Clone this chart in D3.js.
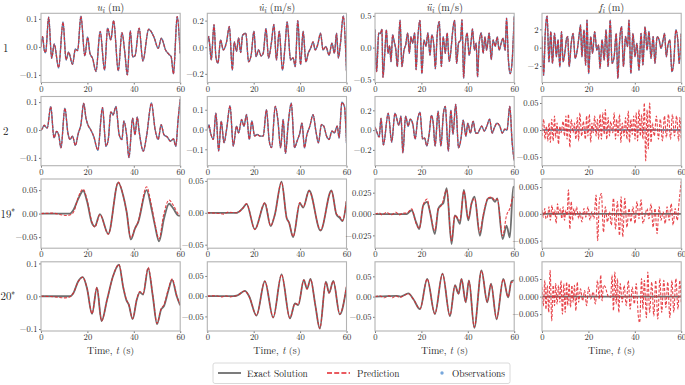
<!DOCTYPE html>
<html>
<head>
<meta charset="utf-8">
<script src="https://cdn.jsdelivr.net/npm/d3@7"></script>
<style>
  body { margin: 0; background: #fff; }
  svg { display: block; }
</style>
</head>
<body>
<svg id="chart" width="685" height="385"></svg>
<script>
// time axis
var T_DOMAIN = [0, 60];
var X_TICKS = [0, 20, 40, 60];

// column headers and row names
var COL_SYMBOLS = ["u", "u\u0307", "\u00fc", "f"];
var COL_UNITS = ["(m)", "(m/s)", "(m/s)", "(m)"];
var ROW_NAMES = ["1", "2", "19", "20"];
var ROW_STARRED = [false, false, true, true];

// y ranges, ticks and tick label decimals, row by row
var Y_DOMAINS = [
  [[-0.127, 0.12], [-0.265, 0.255], [-0.55, 0.54], [-3.8, 3.75]],
  [[-0.128, 0.12], [-0.183, 0.167], [-0.36, 0.34], [-0.066, 0.062]],
  [[-0.0736, 0.0736], [-0.0555, 0.053], [-0.040, 0.041], [-0.0064, 0.0065]],
  [[-0.106, 0.105], [-0.086, 0.085], [-0.085, 0.086], [-0.0098, 0.0099]]
];
var Y_TICKS = [
  [[-0.1, 0, 0.1], [-0.2, 0, 0.2], [-0.5, 0, 0.5], [-2, 0, 2]],
  [[-0.1, 0, 0.1], [-0.1, 0, 0.1], [-0.2, 0, 0.2], [-0.05, 0, 0.05]],
  [[-0.05, 0, 0.05], [-0.05, 0, 0.05], [-0.025, 0, 0.025], [-0.005, 0, 0.005]],
  [[-0.1, 0, 0.1], [-0.05, 0, 0.05], [-0.05, 0, 0.05], [-0.005, 0, 0.005]]
];
var Y_DECIMALS = [
  [1, 1, 1, 0],
  [1, 1, 1, 2],
  [2, 2, 3, 3],
  [1, 2, 2, 3]
];

// ---- floor 1 (observed) : [t, value]
var U1 = [[0,0.001],[0.7,0.037],[1.4,-0.011],[2.0,-0.02],[3.3,0.106],[4.6,-0.04],[5.7,0.01],[7.6,-0.074],[9.5,0.088],[10.8,-0.046],[11.9,-0.019],[13.6,-0.062],[14.8,-0.008],[15.8,-0.013],[17.2,0.11],[18.9,-0.032],[20.1,0.035],[21.1,-0.023],[22.2,-0.04],[23.7,-0.087],[25.5,0.055],[27.4,-0.082],[28.7,0.067],[30.1,0.025],[31.3,0.094],[33.3,-0.085],[34.9,0.051],[36.2,-0.026],[37.2,-0.1],[38.5,0.057],[39.5,-0.035],[40.5,-0.032],[42.3,0.067],[43.9,-0.05],[46.4,0.063],[48.7,0.035],[50.5,-0.005],[51.9,0.031],[53.7,-0.011],[55.1,-0.026],[56.1,-0.035],[57.1,-0.096],[58.7,0.108],[60,-0.023]];
var UD1 = [[0,0.03],[0.6,0.08],[1.1,0.005],[1.7,-0.095],[2.9,0.17],[3.7,-0.07],[4.6,-0.12],[5.7,0.055],[6.9,-0.02],[8.3,0.04],[9.5,0.155],[10.8,-0.17],[11.6,0.04],[12.6,-0.03],[13.5,0.07],[14.4,-0.04],[15.2,0.09],[16.6,0.105],[17.8,-0.11],[18.9,-0.06],[20.1,0.12],[21.0,-0.07],[22.1,-0.02],[23.2,-0.065],[24.1,-0.045],[25.3,0.14],[26.4,-0.08],[27.6,0.03],[28.7,0.17],[29.8,-0.095],[31.0,0.12],[32.4,-0.17],[33.6,0.03],[34.4,0.19],[35.9,-0.095],[37.0,-0.08],[37.9,-0.145],[39.0,0.2],[40.2,-0.13],[41.3,0.12],[42.5,-0.11],[43.5,-0.045],[44.5,-0.01],[45.6,0.04],[46.5,-0.02],[47.6,0.02],[48.8,0.105],[49.9,-0.02],[51.1,0.005],[52.5,-0.06],[53.7,0.03],[54.8,-0.045],[55.7,0.105],[56.5,-0.08],[57.4,0.03],[58.6,0.235],[60,-0.18]];
var UDD1 = [[0,0.28],[0.7,-0.38],[1.6,0.23],[2.3,0.22],[3.0,0.29],[3.4,-0.47],[4.3,-0.04],[4.9,0.28],[5.6,-0.09],[6.3,0.03],[6.9,-0.22],[7.6,0.2],[8.3,0.09],[9.0,-0.04],[9.6,-0.3],[10.8,0.43],[11.6,-0.3],[12.5,-0.04],[13.2,0.04],[14.1,0.23],[14.8,-0.09],[15.5,0.17],[16.2,0.07],[17.1,0.23],[17.7,-0.35],[18.4,0.12],[19.4,0.43],[20.2,-0.41],[21.1,0.12],[22.0,0.02],[22.8,0.23],[23.7,-0.12],[24.5,0.2],[25.4,0.02],[26.0,-0.33],[26.8,0.2],[27.7,0.41],[28.6,-0.3],[29.4,0.17],[30.3,-0.09],[31.1,0.23],[32.0,-0.22],[32.9,0.02],[33.4,0.23],[34.3,0.43],[35.2,-0.25],[36.0,0.07],[36.9,0.12],[37.5,0.44],[38.2,-0.48],[38.9,0.02],[39.7,0.23],[40.6,-0.12],[41.5,0.12],[42.0,0.29],[42.9,-0.04],[43.6,0.07],[44.2,-0.46],[44.9,0.07],[45.8,0.23],[46.6,-0.09],[47.4,0.17],[48.1,-0.04],[48.6,0.07],[49.2,0.23],[50.1,-0.19],[50.9,0.12],[51.8,0.02],[52.7,0.17],[53.5,-0.04],[54.4,0.07],[55.2,0.15],[56.1,-0.04],[56.7,0.46],[57.5,-0.19],[58.3,-0.41],[59.1,-0.22],[60,0.49]];
var F1 = [[0,1.2],[0.7,-3.0],[1.4,1.56],[2.2,3.45],[3.0,-1.53],[3.8,1.75],[4.5,-1.71],[5.4,1.56],[6.2,-0.98],[6.9,0.84],[7.7,-2.07],[8.4,1.75],[9.1,-1.53],[10.0,-0.25],[10.6,1.02],[11.1,1.2],[11.7,-2.07],[12.6,0.47],[13.4,1.56],[14.3,-1.16],[15.2,-0.25],[16.1,1.56],[16.6,2.47],[17.2,-0.98],[18.1,1.93],[18.8,-1.89],[19.4,3.02],[20.1,-2.8],[21.0,1.2],[21.8,-0.62],[22.7,1.75],[23.6,-0.25],[24.4,0.29],[25.0,-2.25],[25.9,0.84],[26.8,-1.35],[27.6,1.93],[28.5,-2.07],[29.4,3.02],[30.2,-1.71],[31.1,-0.98],[32.0,1.56],[32.7,-3.35],[33.4,0.47],[34.3,2.29],[35.1,-2.07],[36.0,1.2],[36.9,0.11],[37.5,3.02],[38.3,-2.8],[39.2,1.56],[40.1,-0.98],[40.9,0.47],[41.8,-2.44],[42.7,1.56],[43.5,-1.89],[44.4,2.29],[45.3,-0.25],[46.1,1.75],[47.0,-1.16],[47.9,1.2],[48.7,-1.71],[49.6,1.2],[50.5,0.84],[51.3,-0.07],[52.2,0.84],[52.8,1.56],[53.6,-0.98],[54.2,0.11],[55.1,0.84],[56.0,-2.62],[56.8,-1.53],[57.7,1.93],[58.6,0.65],[59.1,-1.71],[60,1.56]];

// ---- floor 2 (observed)
var U2 = [[0,-0.001],[0.7,0.007],[1.4,0.017],[2.0,0.011],[2.7,0.007],[4.2,0.084],[5.6,-0.028],[6.7,-0.005],[7.6,-0.017],[8.6,-0.064],[10.3,0.078],[11.6,-0.011],[12.5,-0.034],[13.6,-0.022],[14.8,-0.055],[16.1,-0.011],[17.2,0.019],[18.4,0.096],[19.4,0.042],[20.4,0.015],[21.4,0.001],[22.8,-0.025],[24.5,-0.072],[26.5,0.08],[28.0,-0.058],[29.0,-0.034],[30.1,0.065],[31.1,0.054],[32.3,0.084],[33.7,-0.017],[34.9,-0.034],[35.7,0.032],[36.9,-0.017],[37.9,-0.099],[39.5,0.042],[40.5,-0.017],[41.5,0.046],[42.3,-0.005],[44.1,-0.076],[45.5,-0.022],[47.6,0.096],[49.2,0.001],[50.5,-0.034],[51.8,0.019],[53.0,-0.017],[54.4,-0.025],[55.8,-0.04],[57.1,-0.032],[58.1,-0.058],[59.1,0.037],[60,0.11]];
var UD2 = [[0,0],[0.7,0.022],[1.4,-0.017],[2.6,-0.05],[3.7,0.083],[4.9,-0.108],[6.0,0.042],[7.2,-0.067],[8.3,0],[9.8,0.12],[11.2,-0.083],[12.6,0.017],[13.5,-0.017],[14.8,0.05],[15.8,0.017],[16.9,0.075],[18.1,-0.05],[19.2,0.042],[20.4,-0.033],[21.5,-0.025],[22.7,-0.033],[24.1,-0.033],[25.5,0.1],[26.7,-0.058],[27.7,-0.092],[29.3,0.117],[30.4,0.05],[31.6,-0.092],[32.7,0.05],[33.7,-0.12],[34.9,0.033],[36.2,0.133],[37.6,-0.092],[38.7,-0.058],[39.9,-0.017],[40.8,0.033],[41.9,-0.092],[42.8,-0.033],[44.2,0.017],[45.6,0.075],[46.8,-0.008],[47.9,-0.067],[49.2,0.025],[50.2,0.017],[51.4,-0.033],[52.5,-0.05],[53.7,-0.008],[54.8,-0.017],[56.0,0.017],[56.8,-0.042],[58.0,0.137],[59.1,0.117],[60,-0.067]];
var UDD2 = [[0,0.03],[0.8,-0.02],[1.8,-0.07],[2.6,0.12],[3.6,-0.15],[5.7,0.17],[7.2,-0.12],[8.6,0.17],[10.3,0.05],[11.2,0.14],[12.0,-0.23],[13.2,0.14],[14.3,0.04],[15.2,0.11],[16.3,0.06],[17.3,-0.09],[18.4,0.11],[19.4,0.18],[20.5,-0.09],[21.4,-0.08],[22.3,-0.16],[23.4,-0.03],[24.3,0.15],[25.1,0.07],[25.9,-0.16],[27.2,0.19],[28.4,-0.16],[29.5,0.17],[30.3,0.24],[31.6,-0.21],[32.7,0.2],[33.6,-0.04],[34.8,0.26],[36.0,-0.18],[37.1,-0.08],[38.0,0.1],[39.2,-0.06],[40.0,0.07],[41.1,-0.03],[42.3,0.09],[43.4,-0.03],[44.3,-0.03],[45.2,0.01],[46.0,0.04],[47.1,-0.01],[48.2,0.04],[49.4,0.11],[50.5,-0.03],[51.4,0.02],[52.6,0.07],[53.8,0.04],[54.9,-0.03],[56.0,0.01],[56.9,0.0],[58.1,0.24],[59.1,-0.12],[60,-0.31]];
var F2_PRED = [[0,-0.011],[0.7,0.02],[1.3,-0.017],[1.9,0.007],[2.5,-0.02],[3.0,0.013],[3.6,-0.023],[4.2,0.02],[4.8,-0.02],[5.4,0.026],[5.9,-0.014],[6.5,0.013],[7.1,-0.026],[7.7,0.007],[8.2,-0.005],[9.1,0.016],[9.7,-0.011],[10.3,0.026],[10.8,-0.017],[11.4,0.029],[12.0,-0.032],[12.6,0.02],[13.4,-0.005],[14.0,0.013],[14.6,-0.017],[15.2,0.023],[15.8,-0.02],[16.3,0.032],[17.1,-0.011],[17.8,0.016],[18.7,-0.017],[19.2,0.026],[19.8,-0.011],[20.4,0.029],[21.0,-0.023],[21.5,0.013],[22.1,-0.005],[22.7,0.026],[23.3,-0.011],[23.9,0.02],[24.4,-0.017],[25.0,0.029],[25.6,-0.017],[26.2,0.032],[26.8,-0.008],[27.3,0.038],[27.9,-0.017],[28.5,0.023],[29.1,-0.011],[29.6,0.016],[30.5,-0.005],[31.1,0.032],[31.7,-0.017],[32.2,0.02],[32.8,-0.011],[33.4,0.029],[34.0,-0.023],[34.6,0.013],[35.4,-0.011],[36.0,0.023],[36.6,-0.017],[37.2,0.035],[37.7,-0.023],[38.3,0.02],[38.9,-0.008],[39.5,0.026],[40.1,-0.017],[40.6,0.032],[41.2,-0.02],[41.8,0.038],[42.4,-0.011],[42.9,0.029],[43.5,-0.017],[44.1,0.05],[44.7,-0.057],[45.3,0.038],[45.8,-0.035],[46.4,0.05],[47.0,-0.023],[47.6,0.013],[48.4,-0.011],[49.3,0.026],[50.2,-0.017],[51.0,0.02],[51.9,-0.02],[52.8,0.026],[53.6,-0.014],[54.5,0.029],[55.4,-0.017],[56.2,0.029],[57.1,-0.011],[58.0,0.026],[58.9,-0.02],[59.4,0.023],[60,-0.017]];

// zero force on the unloaded floors
var ZERO = [[0, 0], [60, 0]];

// ---- floor 19 (not observed)
var U19 = [[0,0],[12.5,0],[13.9,0.007],[16.1,0.032],[18.2,0.0486],[19.9,0.025],[21.8,-0.018],[23.2,-0.027],[25.4,-0.001],[29.0,-0.043],[33.3,0.066],[35.4,0.039],[36.9,0.004],[38.7,-0.055],[40.5,-0.032],[41.9,-0.018],[45.5,0.05],[47.6,0.011],[49.1,-0.025],[50.9,-0.059],[53.0,-0.011],[55.2,0.021],[57.0,0.011],[59.1,-0.004],[60,-0.005]];
var U19_PRED = [[0,0],[5,0.001],[9,-0.003],[11,-0.004],[13,-0.002],[14.3,0.006],[16.0,0.034],[18.2,0.052],[19.9,0.028],[22.0,-0.019],[23.2,-0.029],[25.4,-0.002],[29.0,-0.044],[33.3,0.067],[35.4,0.039],[36.9,0.004],[38.7,-0.052],[40.5,-0.032],[41.9,-0.017],[45.5,0.057],[47.6,0.018],[49.1,-0.021],[50.9,-0.054],[52.8,-0.004],[55.2,0.029],[57.0,0.018],[59.1,0.0],[60,-0.004]];
var UD19 = [[0,0],[12.6,0],[15.5,0.008],[16.9,0.014],[20.5,-0.026],[24.8,0.015],[27.3,-0.021],[29.1,-0.003],[32.0,0.049],[34.2,-0.008],[35.2,-0.015],[37.0,-0.038],[39.9,0.015],[41.3,0.008],[43.9,0.035],[48.8,-0.028],[53.5,0.035],[55.7,-0.003],[57.1,-0.008],[58.3,-0.013],[60,0.018]];
var UD19_PRED = [[0,0],[5,-0.001],[7,-0.002],[9,0.001],[12.6,0],[15.5,0.008],[16.9,0.014],[20.5,-0.026],[24.8,0.016],[27.3,-0.02],[29.1,-0.003],[32.0,0.048],[34.2,-0.008],[35.2,-0.015],[37.0,-0.037],[39.9,0.016],[41.3,0.009],[43.9,0.034],[48.8,-0.027],[53.5,0.034],[55.7,-0.002],[57.1,-0.006],[58.3,-0.012],[60,0.02]];
var UDD19 = [[0,0],[13.6,0],[15.8,0.0044],[17.7,-0.0095],[19.1,-0.0175],[20.8,0.0103],[22.5,0.0143],[23.7,0.0024],[25.8,-0.0234],[27.3,0.0063],[28.7,0.0111],[29.4,0.0123],[30.9,0.0302],[33.0,-0.0353],[34.4,-0.0016],[35.2,-0.0036],[36.6,-0.0115],[38.3,0.0282],[40.2,-0.0075],[41.6,0.0123],[42.9,0.0202],[45.2,-0.0254],[46.6,-0.0036],[48.8,0.0183],[50.2,0.019],[51.7,0.0143],[52.7,0.0183],[55.0,-0.0294],[56.7,-0.0135],[58.1,-0.0274],[59.6,0.0321],[60,0.0302]];
var UDD19_PRED = [[0,0],[2,0.001],[3,-0.001],[5,0.002],[7,-0.001],[9,0.002],[10.5,-0.001],[12,0.001],[13.6,0.001],[15.8,0.006],[17.7,-0.011],[19.1,-0.0167],[20.8,0.011],[22.5,0.0175],[23.7,0.0024],[25.8,-0.0194],[27.3,0.0063],[28.7,0.0103],[30.9,0.0282],[33.0,-0.0313],[34.4,-0.0016],[36.6,-0.0075],[38.3,0.027],[40.2,-0.0055],[41.6,0.0123],[42.9,0.0183],[45.2,-0.0214],[46.6,-0.0016],[48.8,0.019],[50.2,0.0198],[51.7,0.0163],[52.7,0.0175],[55.0,-0.0254],[56.7,-0.0016],[58.1,0.0063],[59.6,0.0198],[60,0.019]];
var F19_PRED = [[0,0.0007],[0.6,-0.0006],[1.2,0.001],[1.7,-0.0009],[2.5,-0.0003],[3.0,0.0013],[3.6,-0.0012],[4.3,0.0016],[4.9,-0.0003],[5.5,0.0007],[6.1,-0.0018],[6.7,0.0019],[7.2,0.0001],[8.0,0.001],[8.5,-0.0009],[9.1,0.0013],[9.7,-0.0012],[10.3,0.0007],[10.8,-0.0003],[11.4,0.0045],[12.0,-0.0028],[12.6,0.0023],[13.2,-0.0012],[13.7,0.001],[14.3,-0.0003],[14.9,0.0013],[15.8,-0.0009],[16.3,0.0004],[17.2,-0.0015],[18.1,0.001],[18.9,-0.0006],[19.8,0.0013],[20.7,-0.0012],[21.5,0.0004],[22.4,-0.0009],[23.3,0.0035],[24.0,-0.005],[24.7,0.0023],[25.6,0.0038],[26.5,-0.0034],[27.3,0.0013],[28.2,-0.0015],[29.1,0.0004],[29.9,-0.0021],[30.8,0.0029],[31.7,-0.0028],[32.5,0.0023],[33.4,-0.004],[34.1,0.0032],[34.8,-0.0043],[35.7,0.0029],[36.6,-0.0025],[37.5,0.001],[38.3,-0.0015],[39.2,0.0013],[40.1,-0.0018],[40.9,0.0023],[41.8,-0.0009],[42.7,0.0026],[43.5,-0.0018],[44.4,-0.0003],[45.3,0.001],[46.1,-0.0009],[47.0,0.0019],[47.9,-0.0025],[48.7,0.001],[49.6,-0.0037],[50.5,0.0013],[51.3,-0.0012],[52.2,0.0004],[53.1,-0.0018],[53.9,0.0013],[54.8,-0.0012],[55.7,0.0019],[56.5,-0.0021],[57.4,0.001],[58.3,-0.0012],[59.1,0.0023],[60,0.006]];

// ---- floor 20 (not observed)
var U20 = [[0,0],[12.5,0],[14,0.01],[16,0.045],[18,0.058],[19.8,0.025],[22,-0.054],[24.1,0.026],[26.1,-0.076],[28.5,-0.01],[31,0.06],[33.6,0.096],[35.5,0.025],[36.8,-0.012],[37.8,-0.025],[39.5,-0.07],[41.3,-0.01],[42.6,0.012],[44,0.005],[46.2,0.085],[48.2,0.0],[50,-0.085],[51.8,-0.04],[53,-0.03],[55,0.02],[56.5,0.05],[58.5,0.0],[60,-0.028]];
var U20_PRED = [[0,0],[6,-0.002],[8,-0.004],[10,-0.005],[12,-0.003],[13.8,0.008],[16,0.044],[18,0.058],[19.8,0.026],[22,-0.053],[24.1,0.027],[26.1,-0.075],[28.5,-0.01],[31,0.06],[33.6,0.097],[35.5,0.026],[36.8,-0.01],[37.8,-0.024],[39.5,-0.068],[41.3,-0.008],[42.6,0.014],[44,0.008],[46.2,0.088],[48.2,0.002],[50,-0.082],[51.8,-0.038],[53,-0.026],[55,0.024],[56.5,0.053],[58.5,0.002],[60,-0.026]];
var UD20 = [[0,0],[11,0],[13,0.002],[16.2,0.013],[18,0.0],[21.2,-0.048],[24.8,0.037],[28.4,-0.053],[32,0.054],[35.6,-0.055],[37.8,-0.018],[39.2,-0.022],[41.6,0.04],[43,0.018],[44.5,0.043],[46.5,-0.02],[48.5,-0.08],[51.1,0.036],[52.5,0.008],[54.3,0.038],[57.1,-0.045],[60,0.022]];
var UD20_PRED = [[0,0],[4,0.001],[6,-0.002],[8,0.001],[10,-0.002],[11.5,0.0],[13,0.002],[16.2,0.013],[18,0.0],[21.2,-0.047],[24.8,0.037],[28.4,-0.052],[32,0.053],[35.6,-0.054],[37.8,-0.018],[39.2,-0.021],[41.6,0.04],[43,0.018],[44.5,0.042],[46.5,-0.02],[48.5,-0.079],[51.1,0.035],[52.5,0.008],[54.3,0.037],[57.1,-0.044],[60,0.025]];
var UDD20 = [[0,0],[9.3,0.002],[11,0.0],[14.4,0.008],[16.5,-0.006],[19.4,-0.031],[22.5,0.044],[25.8,-0.043],[29.1,0.057],[32.3,-0.048],[34.5,0.028],[36,0.007],[37.3,0.044],[39.1,-0.014],[40.5,0.04],[42.8,-0.077],[45.9,0.065],[48.4,-0.014],[50,0.032],[52.4,-0.056],[55.3,0.044],[57.4,-0.002],[58.8,0.038],[60,0.04]];
var UDD20_PRED = [[0,0],[2,0.002],[4,-0.003],[6,0.002],[7.5,-0.003],[9,0.002],[10.5,-0.002],[12,0.001],[14.4,0.007],[16.5,-0.006],[19.4,-0.03],[22.5,0.043],[25.8,-0.042],[29.1,0.056],[32.3,-0.047],[34.5,0.027],[36,0.007],[37.3,0.043],[39.1,-0.013],[40.5,0.039],[42.8,-0.075],[45.9,0.064],[48.4,-0.013],[50,0.031],[52.4,-0.054],[55.3,0.043],[57.4,-0.001],[58.8,0.036],[60,0.035]];
var F20_PRED = [[0,0.0027],[0.6,-0.0026],[1.2,0.0046],[1.7,-0.0036],[2.3,0.0032],[2.9,-0.0045],[3.5,0.0075],[4.2,-0.0069],[4.8,0.0032],[5.4,-0.0026],[5.9,0.0037],[6.5,-0.0021],[7.1,0.0032],[7.7,-0.0016],[8.2,0.0046],[8.8,-0.005],[9.4,0.0037],[10.0,-0.0045],[10.6,0.0041],[11.1,-0.0026],[11.7,0.0037],[12.3,-0.0031],[12.9,0.0032],[13.4,-0.0016],[14.0,0.0032],[14.6,-0.004],[15.2,0.0041],[15.8,-0.0016],[16.6,0.0022],[17.5,-0.0012],[18.4,0.0017],[19.2,-0.0026],[20.1,0.0027],[21.0,-0.0007],[22.1,0.0013],[23.0,-0.0021],[23.9,0.0046],[24.7,-0.0007],[25.3,0.0061],[25.9,-0.0012],[26.5,0.0032],[27.3,0.0027],[27.9,0.0013],[28.8,-0.0002],[29.6,-0.0002],[30.2,0.0061],[30.8,-0.004],[31.4,0.007],[32.0,-0.0021],[32.5,0.0051],[33.1,-0.0045],[33.7,0.0037],[34.6,-0.0016],[35.4,0.0032],[36.3,-0.0026],[37.2,0.0046],[38.0,-0.0036],[38.9,0.0027],[39.8,-0.0021],[40.6,0.0037],[41.5,-0.0055],[42.1,-0.0074],[42.9,0.0051],[43.5,-0.0036],[44.1,0.0046],[45.0,-0.006],[45.6,0.007],[46.4,-0.0045],[47.3,0.0041],[48.2,-0.0055],[49.0,0.0046],[49.9,-0.0064],[50.8,0.0051],[51.6,-0.0045],[52.5,0.0046],[53.4,-0.0031],[54.2,0.0041],[55.1,-0.006],[56.0,0.0046],[56.8,-0.0045],[57.7,0.0051],[58.6,-0.0036],[59.4,0.0046],[60,-0.0016]];

// which series goes in which panel
var EXACT = [
  [U1, UD1, UDD1, F1],
  [U2, UD2, UDD2, ZERO],
  [U19, UD19, UDD19, ZERO],
  [U20, UD20, UDD20, ZERO]
];
var PRED = [
  [U1, UD1, UDD1, F1],
  [U2, UD2, UDD2, F2_PRED],
  [U19_PRED, UD19_PRED, UDD19_PRED, F19_PRED],
  [U20_PRED, UD20_PRED, UDD20_PRED, F20_PRED]
];
var OBS = [
  [U1, UD1, UDD1, F1],
  [U2, UD2, UDD2, ZERO],
  [null, null, null, null],
  [null, null, null, null]
];

var LEGEND_LABELS = ["Exact Solution", "Prediction", "Observations"];

// ---------------------------------------------------------------
var FONT = "'Latin Modern Roman', 'Liberation Serif', serif";
var GREY = "#6e6e6e", RED = "#e3242b", BLUE = "#4a8ad0", FRAME = "#b3b3b3";
var colLeft = [41, 207.3, 375, 542], pw = 139.2;
var rowTop = [13.3, 96.5, 179, 261.8], ph = 69.2;

var svg = d3.select("#chart");

function fmt(dec) {
  return function (d) {
    var s = Math.abs(d).toFixed(dec);
    return (d < 0 ? "\u2212" : "") + s;
  };
}

function addText(sel) {
  return sel.append("text").style("font-family", FONT).attr("fill", "#222");
}

function drawPanel(r, c) {
  var left = colLeft[c], top = rowTop[r];
  var x = d3.scaleLinear().domain(T_DOMAIN).range([left, left + pw]);
  var y = d3.scaleLinear().domain(Y_DOMAINS[r][c]).range([top + ph, top]);
  var id = "clip" + r + c;

  svg.append("clipPath").attr("id", id)
    .append("rect").attr("x", left).attr("y", top).attr("width", pw).attr("height", ph);

  var line = d3.line()
    .x(function (d) { return x(d[0]); })
    .y(function (d) { return y(d[1]); })
    .curve(d3.curveMonotoneX);

  var g = svg.append("g").attr("clip-path", "url(#" + id + ")");

  var heavy = r >= 2;
  g.append("path").datum(EXACT[r][c])
    .attr("d", line).attr("fill", "none")
    .attr("stroke", GREY).attr("stroke-width", heavy ? 1.8 : 1.3);

  if (OBS[r][c]) {
    // dense observation markers, drawn as round dots along the record
    g.append("path").datum(OBS[r][c])
      .attr("d", line).attr("fill", "none")
      .attr("stroke", BLUE).attr("stroke-opacity", 0.7)
      .attr("stroke-width", 1.7).attr("stroke-linecap", "round")
      .attr("stroke-dasharray", "0 2.4");
  }

  g.append("path").datum(PRED[r][c])
    .attr("d", line).attr("fill", "none")
    .attr("stroke", RED).attr("stroke-opacity", 0.85)
    .attr("stroke-width", 1.1).attr("stroke-dasharray", "3 1.6");

  // axes
  var xa = svg.append("g").attr("transform", "translate(0," + (top + ph) + ")")
    .call(d3.axisBottom(x).tickValues(X_TICKS).tickSize(2).tickPadding(1).tickFormat(d3.format("d")));
  var ya = svg.append("g").attr("transform", "translate(" + left + ",0)")
    .call(d3.axisLeft(y).tickValues(Y_TICKS[r][c]).tickSize(2).tickPadding(1.5).tickFormat(fmt(Y_DECIMALS[r][c])));
  [xa, ya].forEach(function (a) {
    a.attr("font-family", null);
    a.select(".domain").remove();
    a.selectAll("line").attr("stroke", "#555").attr("stroke-width", 0.8);
    a.selectAll("text").style("font-family", FONT)
      .attr("font-size", 8.6).attr("fill", "#333");
  });

  svg.append("rect").attr("x", left).attr("y", top).attr("width", pw).attr("height", ph)
    .attr("fill", "none").attr("stroke", FRAME).attr("stroke-width", 1.1);
}

for (var r = 0; r < 4; r++) {
  for (var c = 0; c < 4; c++) drawPanel(r, c);
}

// column titles
COL_SYMBOLS.forEach(function (s, c) {
  var t = addText(svg).attr("x", colLeft[c] + pw / 2).attr("y", 11)
    .attr("text-anchor", "middle").attr("font-size", 10.2);
  t.append("tspan").attr("font-style", "italic").text(s);
  t.append("tspan").attr("font-style", "italic").attr("font-size", 7.2).attr("dy", 1.8).text("i");
  t.append("tspan").attr("dy", -1.8).text(" " + COL_UNITS[c]);
});

// row names
ROW_NAMES.forEach(function (n, r) {
  var t = addText(svg).attr("x", ROW_STARRED[r] ? 0.5 : 3).attr("y", rowTop[r] + ph / 2 + 4)
    .attr("font-size", 10.8).text(n);
  if (ROW_STARRED[r]) t.append("tspan").attr("font-size", 7.5).attr("dy", -3.8).text("*");
});

// x labels
colLeft.forEach(function (l) {
  var t = addText(svg).attr("x", l + pw / 2).attr("y", 354)
    .attr("text-anchor", "middle").attr("font-size", 10);
  t.append("tspan").text("Time, ");
  t.append("tspan").attr("font-style", "italic").text("t");
  t.append("tspan").text(" (s)");
});

// legend
var lg = svg.append("g");
lg.append("rect").attr("x", 213).attr("y", 363).attr("width", 297).attr("height", 20.5)
  .attr("rx", 2).attr("fill", "#fff").attr("stroke", "#d0d0d0").attr("stroke-width", 0.8);
lg.append("line").attr("x1", 218).attr("x2", 241).attr("y1", 373).attr("y2", 373)
  .attr("stroke", GREY).attr("stroke-width", 1.8);
lg.append("line").attr("x1", 327).attr("x2", 350).attr("y1", 373).attr("y2", 373)
  .attr("stroke", RED).attr("stroke-width", 1.6).attr("stroke-dasharray", "5 2.2");
lg.append("circle").attr("cx", 442).attr("cy", 373).attr("r", 1.7)
  .attr("fill", BLUE).attr("fill-opacity", 0.75);
[247, 357, 452].forEach(function (lx, i) {
  addText(lg).attr("x", lx).attr("y", 376.5).attr("font-size", 9.4).text(LEGEND_LABELS[i]);
});
</script>
</body>
</html>
